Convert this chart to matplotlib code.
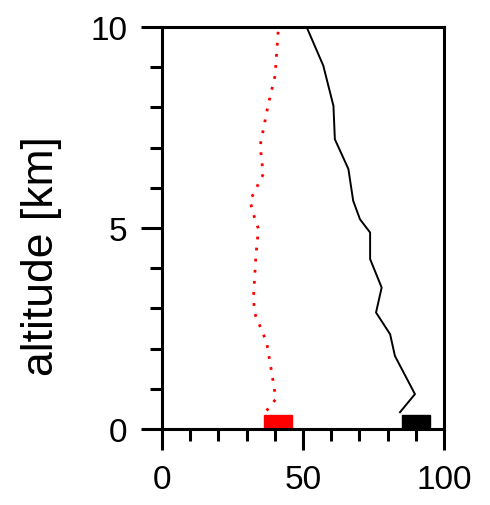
import numpy as np
import matplotlib
matplotlib.use('Agg')
import matplotlib.pyplot as plt
from matplotlib.ticker import MultipleLocator

plt.rcParams['font.family'] = ['Liberation Sans', 'DejaVu Sans']

# black profile (solid)
black_x = [84.4, 89.7, 82.6, 80.9, 75.9, 77.9, 73.8, 73.8, 70.2, 67.8, 66.1, 61.3, 60.8, 57.2, 51.3]
black_y = [0.42, 0.87, 1.82, 2.36, 2.90, 3.52, 4.23, 4.89, 5.22, 5.68, 6.47, 7.21, 8.04, 9.04, 10.0]

# red profile (dotted)
red_x = [37.1, 40.4, 38.9, 37.1, 33.0, 32.4, 33.3, 34.2, 32.4, 31.2, 35.9, 34.8, 37.7, 40.1, 41.3]
red_y = [0.46, 0.75, 1.41, 2.16, 2.86, 3.23, 4.31, 4.98, 5.35, 5.68, 6.34, 7.05, 8.08, 8.79, 10.0]

# surface values
surf_x = [41.3, 89.9]
surf_y = [0.0, 0.0]
surf_c = ['red', 'black']

fig = plt.figure(figsize=(4.9, 5.06), dpi=100)
ax = fig.add_axes([0.3306, 0.150, 0.5755, 0.7945])

ax.plot(black_x, black_y, color='black', lw=1.4)
ax.plot(red_x, red_y, color='red', lw=2.0, linestyle=(0, (1, 3)))
for x, y, c in zip(surf_x, surf_y, surf_c):
    ax.plot(x, y, marker='s', markersize=20, color=c, linestyle='none', zorder=1)

ax.set_xlim(0, 100)
ax.set_ylim(0, 10)
ax.xaxis.set_major_locator(MultipleLocator(50))
ax.xaxis.set_minor_locator(MultipleLocator(10))
ax.yaxis.set_major_locator(MultipleLocator(5))
ax.yaxis.set_minor_locator(MultipleLocator(1))

for s in ax.spines.values():
    s.set_linewidth(2.2)
ax.tick_params(which='major', direction='out', length=15, width=2.2, labelsize=24, pad=10)
ax.tick_params(which='minor', direction='out', length=8.5, width=2.2)

ax.set_ylabel('altitude [km]', fontsize=32)
ax.yaxis.set_label_coords(-0.355, 0.433)

fig.savefig('out.png', dpi=100)
